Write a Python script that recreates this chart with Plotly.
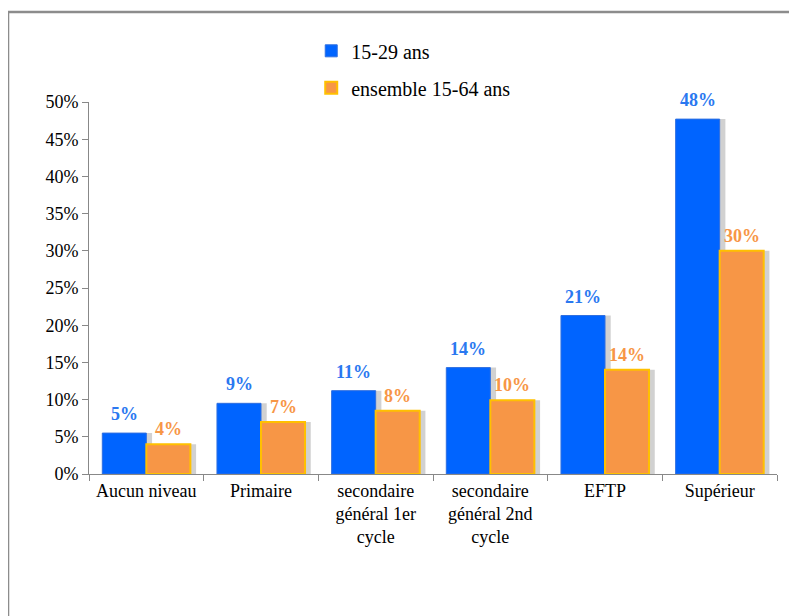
import plotly.graph_objects as go

categories = ["Aucun niveau", "Primaire", "secondaire<br>général 1er<br>cycle",
              "secondaire<br>général 2nd<br>cycle", "EFTP", "Supérieur"]
youth_values = [5.5, 9.5, 11.2, 14.3, 21.3, 47.7]
all_values = [4.0, 7.0, 8.5, 9.9, 14.0, 30.0]
youth_labels = ["5%", "9%", "11%", "14%", "21%", "48%"]
all_labels = ["4%", "7%", "8%", "10%", "14%", "30%"]
tick_vals = [0, 5, 10, 15, 20, 25, 30, 35, 40, 45, 50]
tick_text = ["0%", "5%", "10%", "15%", "20%", "25%", "30%", "35%", "40%", "45%", "50%"]

FONT = "Times New Roman, Liberation Serif, serif"
BW = 0.384
SH = 0.05

fig = go.Figure()
# shadows
for vals, off in [(youth_values, -BW + SH), (all_values, SH)]:
    fig.add_trace(go.Bar(x=categories, y=vals, width=BW, offset=off,
                         marker=dict(color="rgba(0,0,0,0.18)", line=dict(width=0)),
                         showlegend=False, hoverinfo="skip"))

fig.add_trace(go.Bar(
    x=categories, y=youth_values, name="15-29 ans", width=BW, offset=-BW,
    marker=dict(color="#0064FF", line=dict(color="#2F6FE0", width=1)),
    legendgroup="a"))
fig.add_trace(go.Bar(
    x=categories, y=all_values, name="ensemble 15-64 ans", width=BW, offset=0,
    marker=dict(color="#F79646", line=dict(color="#FFC000", width=2)),
    legendgroup="b"))

annotations = []
for cat, v, lab in zip(categories, youth_values, youth_labels):
    annotations.append(dict(x=cat, y=v, text="<b>" + lab + "</b>", showarrow=False,
                            xref="x", yref="y", yanchor="bottom", yshift=7, xshift=-22,
                            font=dict(family=FONT, size=18, color="#2A78F0")))
for cat, v, lab in zip(categories, all_values, all_labels):
    annotations.append(dict(x=cat, y=v, text="<b>" + lab + "</b>", showarrow=False,
                            xref="x", yref="y", yanchor="bottom", yshift=3, xshift=22,
                            font=dict(family=FONT, size=18, color="#F79646")))

fig.update_layout(
    width=797, height=616,
    margin=dict(l=81, r=28, t=94, b=150),
    paper_bgcolor="white", plot_bgcolor="white",
    barmode="overlay",
    font=dict(family=FONT, size=18, color="black"),
    legend=dict(x=0.323, y=1.19, xanchor="left", yanchor="top",
                font=dict(family=FONT, size=20, color="black"),
                itemwidth=30, tracegroupgap=8, bgcolor="rgba(0,0,0,0)"),
    xaxis=dict(showline=True, linecolor="#888888", linewidth=1,
               ticks="outside", tickson="boundaries", ticklen=6, tickcolor="#888888",
               tickfont=dict(family=FONT, size=18, color="black"),
               showgrid=False),
    yaxis=dict(range=[0, 50], tickvals=tick_vals, ticktext=tick_text,
               showline=True, linecolor="#888888", linewidth=1,
               ticks="outside", ticklen=6, tickcolor="#888888",
               tickfont=dict(family=FONT, size=18, color="black"),
               showgrid=False, zeroline=False),
    annotations=annotations,
    shapes=[dict(type="rect", xref="paper", yref="paper",
                 x0=-0.1177, x1=1.2, y0=-0.6, y1=1.2419,
                 line=dict(color="#8C8C8C", width=2.5), layer="below")],
)

fig.write_html("out.html")
